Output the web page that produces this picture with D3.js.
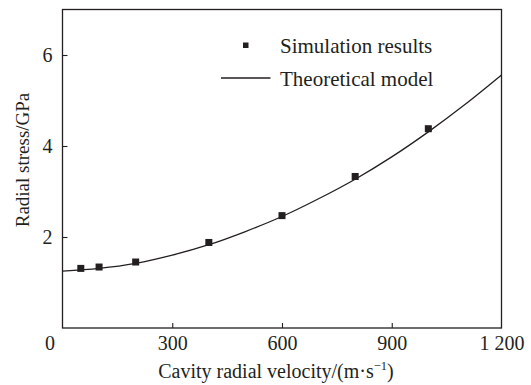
<!DOCTYPE html>
<html><head><meta charset="utf-8">
<script src="https://cdn.jsdelivr.net/npm/d3@7"></script>
</head><body style="margin:0;background:#fff">
<svg id="c" width="531" height="385" style="display:block"></svg>
<script>
// Simulation results
const simVelocity = [50, 100, 200, 400, 600, 800, 1000];
const simStress = [1.31, 1.34, 1.45, 1.88, 2.47, 3.33, 4.38];
// Theoretical model curve
const modelVelocity = [0, 100, 200, 300, 400, 500, 600, 700, 800, 900, 1000, 1100, 1200];
const modelStress = [1.25, 1.31, 1.42, 1.60, 1.83, 2.12, 2.45, 2.84, 3.27, 3.76, 4.31, 4.91, 5.56];
const xTicks = [300, 600, 900, 1200];
const yTicks = [2, 4, 6];
const legendLabels = ["Simulation results", "Theoretical model"];

const FONT = "Liberation Serif";
const svg = d3.select("#c");
const L = 62.5, R = 501.5, T = 9.5, B = 328;
const x = d3.scaleLinear().domain([0, 1200]).range([L, R]);
const y = d3.scaleLinear().domain([0, 7]).range([B, T]);
const ink = "#231f20";

// frame
svg.append("rect").attr("x", L).attr("y", T).attr("width", R - L).attr("height", B - T)
  .attr("fill", "none").attr("stroke", ink).attr("stroke-width", 1.3);

const fmt = d => d >= 1000 ? Math.floor(d / 1000) + "\u00a0" + String(d % 1000).padStart(3, "0") : String(d);

const xa = svg.append("g").attr("transform", `translate(0,${B})`)
  .call(d3.axisBottom(x).tickValues(xTicks).tickSize(-5).tickPadding(8).tickFormat(fmt));
const ya = svg.append("g").attr("transform", `translate(${L},0)`)
  .call(d3.axisLeft(y).tickValues(yTicks).tickSize(-5).tickPadding(10).tickFormat(d3.format("d")));
[xa, ya].forEach(g => {
  g.attr("font-family", FONT).attr("font-size", 20);
  g.select(".domain").remove();
  g.selectAll(".tick line").attr("stroke", ink).attr("stroke-width", 1.1);
  g.selectAll(".tick text").attr("fill", ink).attr("font-family", FONT).attr("font-size", 20);
});
xa.selectAll(".tick").filter(d => d === 1200).select("line").remove();

function txt(xp, yp, size) {
  return svg.append("text").attr("x", xp).attr("y", yp).attr("font-size", size)
    .attr("font-family", FONT).attr("fill", ink);
}
// shared origin label
txt(50, 350, 20).attr("text-anchor", "middle").text("0");

// curve
const line = d3.line().x((d, i) => x(modelVelocity[i])).y((d, i) => y(modelStress[i])).curve(d3.curveCatmullRom);
svg.append("path").datum(modelStress).attr("d", line).attr("fill", "none").attr("stroke", ink).attr("stroke-width", 1.3);

// points
const s = 7;
svg.append("g").selectAll("rect").data(simStress).join("rect")
  .attr("x", (d, i) => x(simVelocity[i]) - s / 2).attr("y", d => y(d) - s / 2)
  .attr("width", s).attr("height", s).attr("fill", ink);

// legend
svg.append("rect").attr("x", 243).attr("y", 42.5).attr("width", 5.5).attr("height", 5.5).attr("fill", ink);
svg.append("line").attr("x1", 221).attr("x2", 270.5).attr("y1", 78).attr("y2", 78).attr("stroke", ink).attr("stroke-width", 1.3);
txt(280, 52.5, 21).text(legendLabels[0]);
txt(280, 85.5, 21).text(legendLabels[1]);

// axis titles
const xt = txt(276, 377.5, 20).attr("text-anchor", "middle");
xt.append("tspan").text("Cavity radial velocity/(m\u00b7s");
xt.append("tspan").attr("font-size", 12.5).attr("dy", -8).text("\u22121");
xt.append("tspan").attr("dy", 8).text(")");
txt(0, 0, 19).attr("transform", "translate(29,160) rotate(-90)").attr("text-anchor", "middle").text("Radial stress/GPa");
</script>
</body></html>
